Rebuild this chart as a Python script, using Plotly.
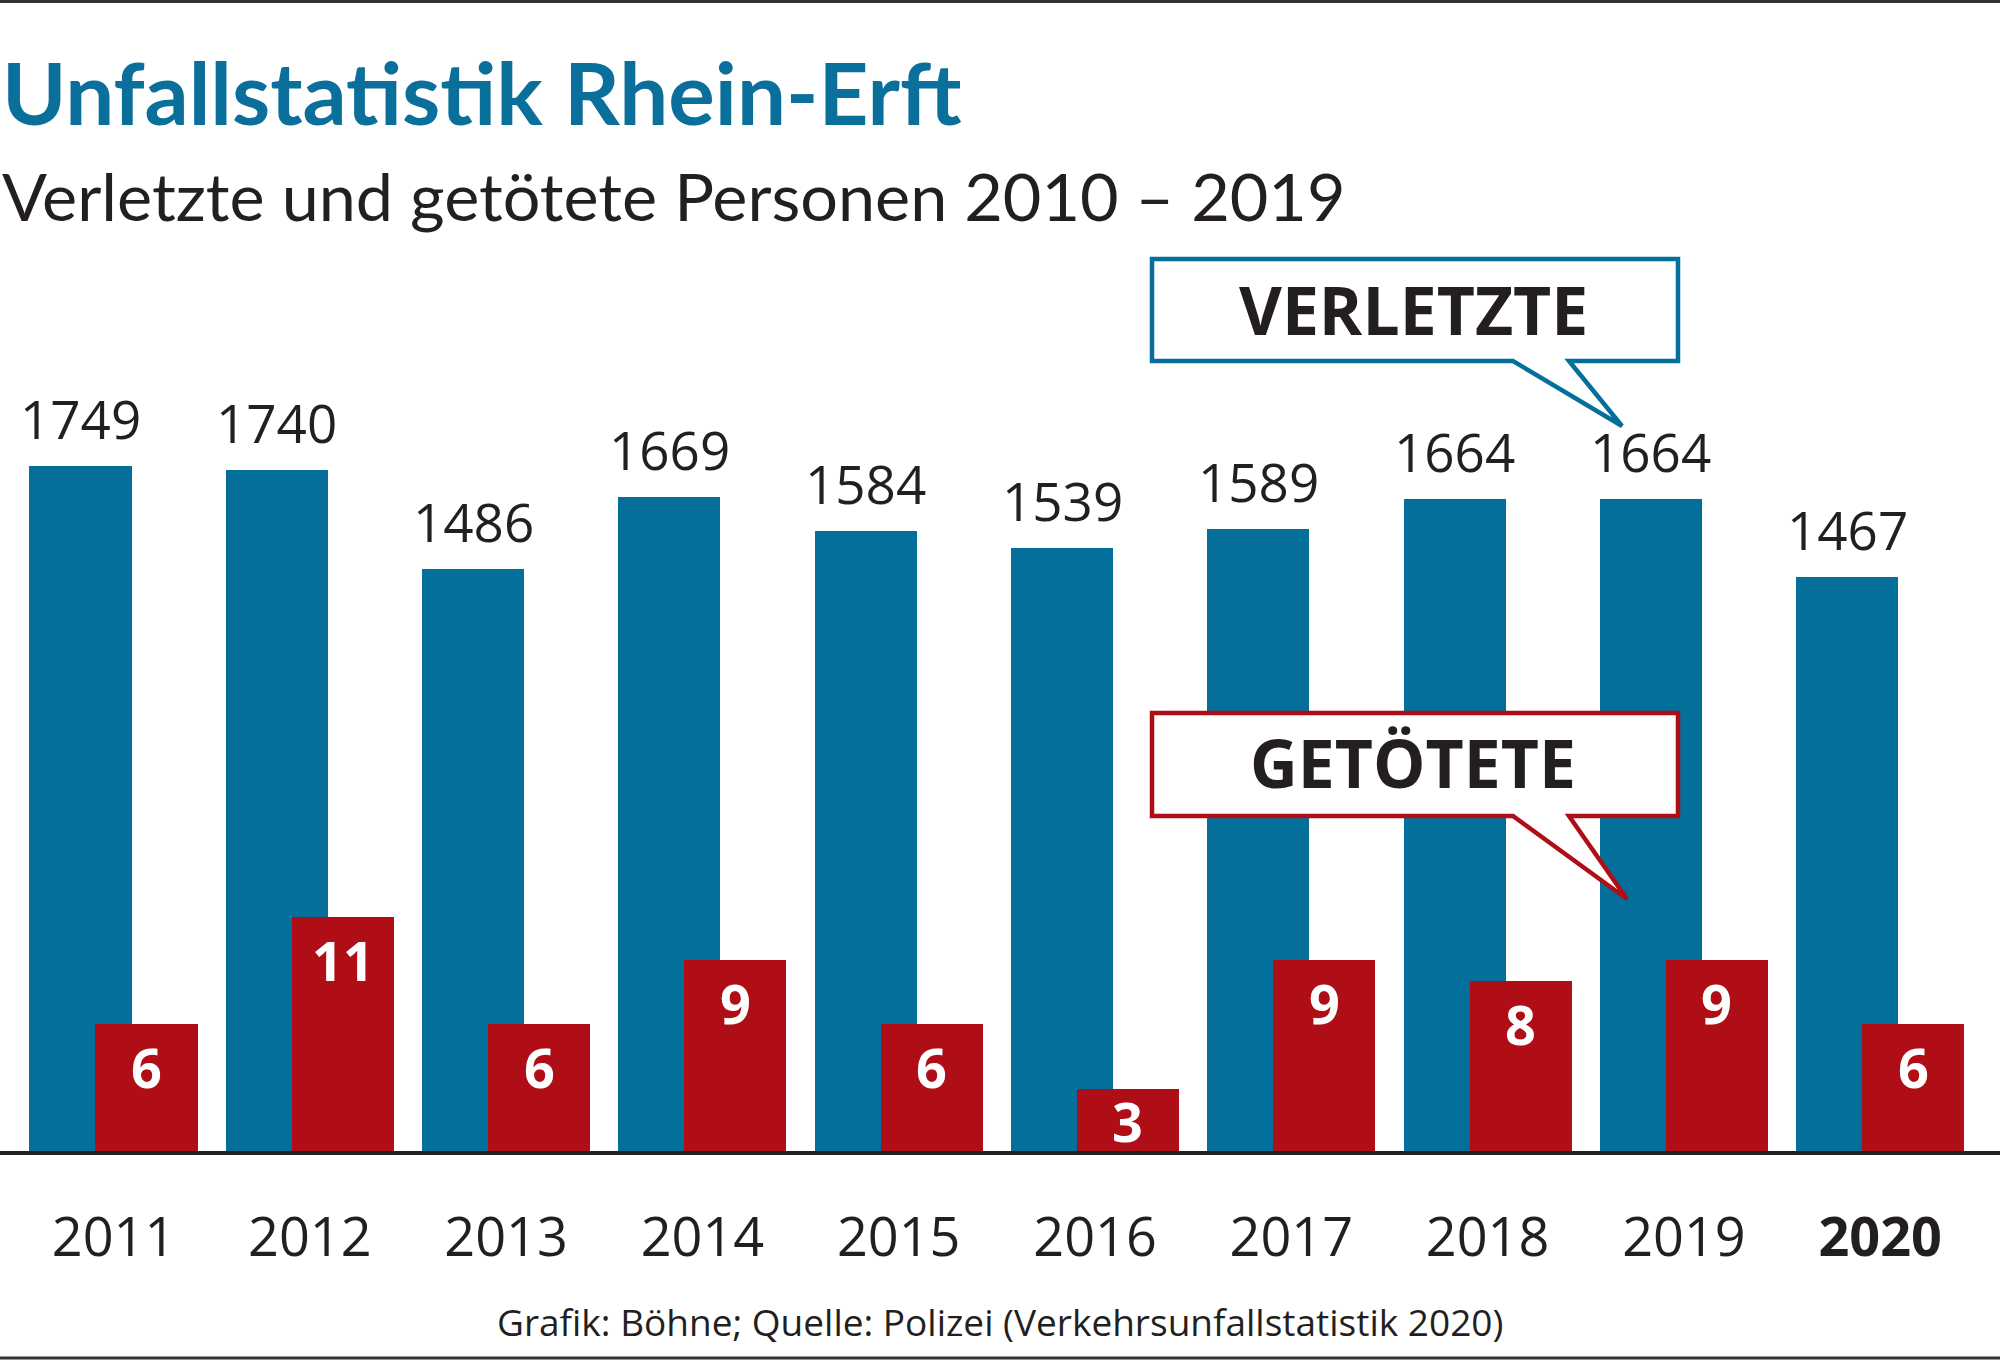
import plotly.graph_objects as go

# ---------------- data ----------------
years = ["2011", "2012", "2013", "2014", "2015", "2016", "2017", "2018", "2019", "2020"]
verletzte = [1749, 1740, 1486, 1669, 1584, 1539, 1589, 1664, 1664, 1467]
getoetete = [6, 11, 6, 9, 6, 3, 9, 8, 9, 6]
tick_labels = ["2011", "2012", "2013", "2014", "2015", "2016", "2017", "2018", "2019", "<b>2020</b>"]

title_text = "Unfallstatistik Rhein-Erft"
subtitle_text = "Verletzte und getötete Personen 2010 – 2019"
source_text = "Grafik: Böhne; Quelle: Polizei (Verkehrsunfallstatistik 2020)"

# ---------------- style ----------------
W, H = 2000, 1360
BLUE = "#046f9b"
RED = "#b00e16"
DARK = "#231f20"
NUM = "Open Sans, Lato, sans-serif"
HUMAN = "Lato, Open Sans, sans-serif"

base_px = 1153           # pixel row of baseline
unit_px = 196.3          # pixel distance between year groups
first_center = 113.5
bar_w = 0.52
blue_off = -0.428
red_off = blue_off + 0.336
blue_px_per_unit = 0.3928
red_px_per_unit = 21.45

x = list(range(len(years)))
x_range = [-first_center / unit_px, (W - first_center) / unit_px]
y_top = base_px / blue_px_per_unit
y2_top = base_px / red_px_per_unit

def py(p):  # pixel row -> paper y
    return 1 - p / H

def px(p):
    return p / W

fig = go.Figure()
fig.add_trace(go.Bar(x=x, y=verletzte, width=bar_w, offset=blue_off,
                     marker=dict(color=BLUE, line=dict(width=0)), yaxis="y",
                     name="Verletzte", hoverinfo="x+y"))
fig.add_trace(go.Bar(x=x, y=getoetete, width=bar_w, offset=red_off,
                     marker=dict(color=RED, line=dict(width=0)), yaxis="y2",
                     name="Getötete", hoverinfo="x+y"))

annotations = []
# value labels above blue bars
for i, v in zip(x, verletzte):
    annotations.append(dict(x=i + blue_off + bar_w / 2, y=v, xref="x", yref="y",
                            text=str(v), showarrow=False, yanchor="bottom", yshift=9,
                            font=dict(family=NUM, size=53, color=DARK)))
# value labels inside red bars
for i, v in zip(x, getoetete):
    annotations.append(dict(x=i + red_off + bar_w / 2, y=max(v - 2.0, v / 2), xref="x", yref="y2",
                            text="<b>%d</b>" % v, showarrow=False, yanchor="middle",
                            font=dict(family=NUM, size=54, color="white")))

# titles
annotations.append(dict(x=px(0), y=py(92), xref="paper", yref="paper", xanchor="left", yanchor="middle",
                        text="<b>%s</b>" % title_text, showarrow=False,
                        font=dict(family=HUMAN, size=87, color="#0a6f9a")))
annotations.append(dict(x=px(0), y=py(195), xref="paper", yref="paper", xanchor="left", yanchor="middle",
                        text=subtitle_text, showarrow=False,
                        font=dict(family=HUMAN, size=66.5, color=DARK)))
annotations.append(dict(x=0.5, y=py(1321), xref="paper", yref="paper", xanchor="center", yanchor="middle",
                        text=source_text, showarrow=False,
                        font=dict(family=NUM, size=37, color=DARK)))
# callout labels
annotations.append(dict(x=px(1413), y=py(309), xref="paper", yref="paper", xanchor="center", yanchor="middle",
                        text="<b>VERLETZTE</b>", showarrow=False,
                        font=dict(family=NUM, size=66, color=DARK)))
annotations.append(dict(x=px(1413), y=py(762), xref="paper", yref="paper", xanchor="center", yanchor="middle",
                        text="<b>GETÖTETE</b>", showarrow=False,
                        font=dict(family=NUM, size=66, color=DARK)))

def callout(left, top, right, bottom, tail_l, tail_r, tip):
    pts = [(left, top), (right, top), (right, bottom), (tail_r, bottom), tip, (tail_l, bottom), (left, bottom)]
    d = "M " + " L ".join("%.5f,%.5f" % (px(a), py(b)) for a, b in pts) + " Z"
    return d

shapes = [
    dict(type="path", xref="paper", yref="paper",
         path=callout(1152, 259, 1678, 361, 1513, 1569, (1622, 426)),
         fillcolor="white", line=dict(color=BLUE, width=4.5), layer="above"),
    dict(type="path", xref="paper", yref="paper",
         path=callout(1152, 713, 1678, 816, 1513, 1569, (1627, 899)),
         fillcolor="white", line=dict(color=RED, width=4.5), layer="above"),
    dict(type="line", xref="paper", yref="paper", x0=0, x1=1, y0=py(1.5), y1=py(1.5),
         line=dict(color="#333333", width=3)),
    dict(type="line", xref="paper", yref="paper", x0=0, x1=1, y0=py(1358), y1=py(1358),
         line=dict(color="#333333", width=3)),
    dict(type="line", xref="paper", yref="paper", x0=0, x1=1, y0=py(base_px), y1=py(base_px),
         line=dict(color=DARK, width=4)),
]

fig.update_layout(
    width=W, height=H,
    margin=dict(l=0, r=0, t=0, b=0, autoexpand=False),
    paper_bgcolor="white", plot_bgcolor="white",
    barmode="overlay", bargap=0, showlegend=False,
    xaxis=dict(range=x_range, tickmode="array", tickvals=x, ticktext=tick_labels,
               showgrid=False, zeroline=False, showline=False, ticks="",
               ticklabelstandoff=48,
               tickfont=dict(family=NUM, size=54, color=DARK), fixedrange=True),
    yaxis=dict(range=[0, y_top], domain=[1 - base_px / H, 1], visible=False, fixedrange=True),
    yaxis2=dict(range=[0, y2_top], overlaying="y", visible=False, fixedrange=True),
    annotations=annotations, shapes=shapes,
)

fig.write_html("out.html", config={"displayModeBar": False},
               post_script="document.body.style.margin='0';")
